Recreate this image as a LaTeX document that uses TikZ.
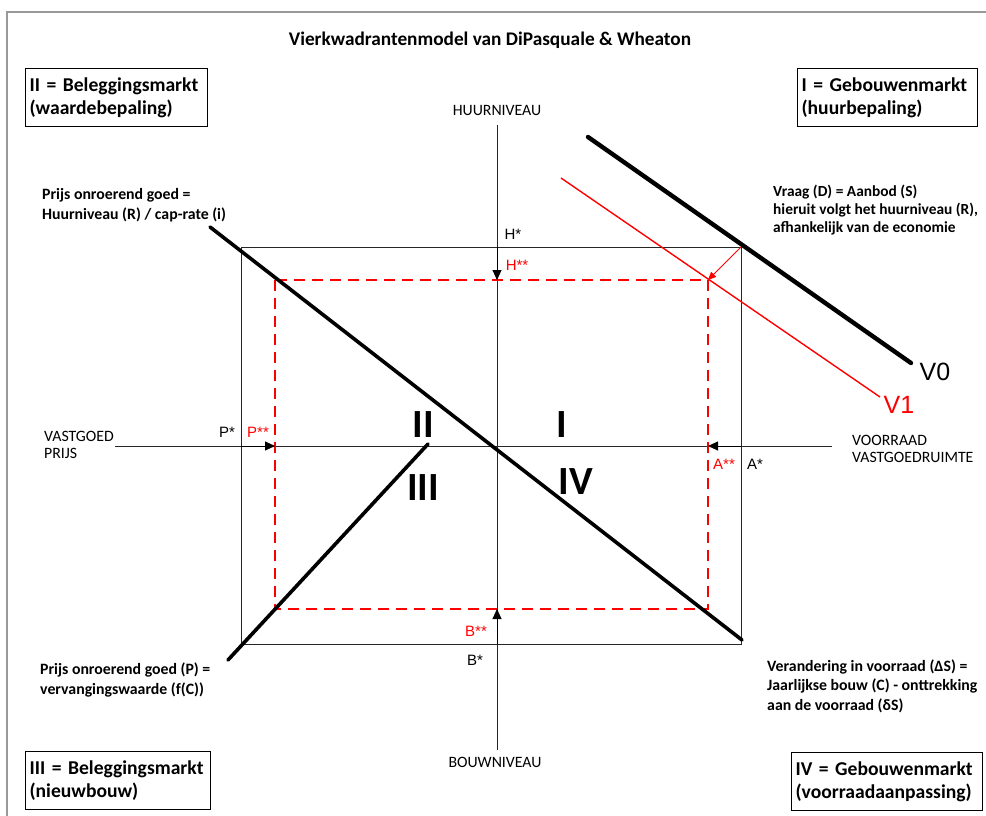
\documentclass[tikz,border=0pt]{standalone}
\usepackage{fontspec}
\setmainfont{Carlito}
\newfontfamily\arialfont{Liberation Sans}
\usetikzlibrary{arrows.meta, positioning, calc}

\begin{document}
\begin{tikzpicture}[
    x=1pt, y=-1pt,
    quadbox/.style={rectangle, draw=black, line width=1.2pt, anchor=north west,
                    minimum height=58pt, inner sep=4pt, align=left,
                    font=\bfseries\fontsize{19.6}{23}\selectfont},
    note/.style={anchor=west, align=left, inner sep=0pt,
                 font=\bfseries\fontsize{15.8}{19.5}\selectfont},
    axislabel/.style={inner sep=0pt, align=left, font=\fontsize{15.8}{16.5}\selectfont},
    quadnum/.style={font=\bfseries\fontsize{40}{40}\selectfont},
    starlabel/.style={inner sep=0pt, font=\arialfont\fontsize{15}{15}\selectfont},
    redstar/.style={starlabel, text=red},
    curvelabel/.style={font=\arialfont\fontsize{25}{25}\selectfont},
    axis/.style={line width=0.9pt, draw=black!85},
    thickline/.style={line width=3.6pt, line cap=round},
    shiftarrow/.style={-{Triangle[length=10pt, width=9pt]}, line width=0.9pt},
    reddash/.style={red, line width=2.2pt, dash pattern=on 11pt off 7pt},
]
\useasboundingbox (0,0) rectangle (986,816);

% kader
\draw[gray!80, line width=1.8pt] (986,12) -- (7,12) -- (7,816);

% titel
\node[font=\bfseries\fontsize{19.3}{22}\selectfont] (title) at (490,40)
    {Vierkwadrantenmodel van DiPasquale \& Wheaton};

% kwadrantboxen
\node[quadbox, text width=174pt] (boxII) at (25,68) {II = Beleggingsmarkt\\(waardebepaling)};
\node[quadbox, text width=172pt] (boxI) at (797,68) {I = Gebouwenmarkt\\(huurbepaling)};
\node[quadbox, text width=177pt] (boxIII) at (25,751) {III = Beleggingsmarkt\\(nieuwbouw)};
\node[quadbox, text width=183pt] (boxIV) at (791,752) {IV = Gebouwenmarkt\\(voorraadaanpassing)};

% assen
\node[axislabel] (huur) at (497,110) {HUURNIVEAU};
\node[axislabel] (bouw) at (495,762) {BOUWNIVEAU};
\node[axislabel, anchor=west] (prijs) at (44,445) {VASTGOED\\PRIJS};
\node[axislabel, anchor=west] (voorraad) at (852,449) {VOORRAAD\\VASTGOEDRUIMTE};
\coordinate (center) at (497,446);
\draw[axis] (497,125) coordinate (vtop) -- (497,750) coordinate (vbot);
\draw[axis] (115,446) coordinate (hleft) -- (832,446) coordinate (hright);

% evenwicht (zwart) en nieuw evenwicht (rood)
\coordinate (bNW) at (241,247);
\coordinate (bSE) at (741,644);
\coordinate (rNW) at (275,280);
\coordinate (rSE) at (708,609);
\draw[line width=0.9pt, draw=black!85] (bNW) rectangle (bSE);
\draw[reddash] (rNW) rectangle (rSE);

% curves
\draw[thickline] (210,227) -- (742,640);
\draw[thickline] (228,660) -- (428,444);
\draw[line width=4.4pt, line cap=round] (588,137) coordinate (v0a) -- (911,363) coordinate (v0b);
\draw[red, line width=1.4pt] (561,178) coordinate (v1a) -- (880,397) coordinate (v1b);
\node[curvelabel] (V0) at (935,372) {V0};
\node[curvelabel, text=red] (V1) at (899,405) {V1};

% verschuivingen
\draw[shiftarrow, red, line width=0.8pt, -{Triangle[length=8pt, width=7pt]}] (bSE |- bNW) -- (rSE |- rNW);
\draw[shiftarrow] (center |- bNW) -- (center |- rNW);
\draw[shiftarrow] (center |- bSE) -- (center |- rSE);
\draw[shiftarrow] (bNW |- center) -- (rNW |- center);
\draw[shiftarrow] (bSE |- center) -- (rSE |- center);

% labels bij de assen
\node[starlabel] (Hs) at (513,234) {H*};
\node[redstar] (Hss) at (517,265) {H**};
\node[redstar] (Bss) at (476,631) {B**};
\node[starlabel] (Bs) at (475,660) {B*};
\node[starlabel] (Ps) at (227,432) {P*};
\node[redstar] (Pss) at (258,432) {P**};
\node[redstar] (Ass) at (724,464) {A**};
\node[starlabel] (As) at (755,464) {A*};

% kwadrantnummers
\node[quadnum] (qII) at (423,425) {II};
\node[quadnum] (qI) at (562,425) {I};
\node[quadnum] (qIII) at (423,488) {III};
\node[quadnum] (qIV) at (576,482) {IV};

% toelichtingen
\node[note] (capnote) at (42,205) {Prijs onroerend goed =\\Huurniveau (R) / cap-rate (i)};
\node[note, font=\bfseries\fontsize{15.4}{18}\selectfont] (vraagnote) at (773,210)
    {Vraag (D) = Aanbod (S)\\hieruit volgt het huurniveau (R),\\afhankelijk van de economie};
\node[note] (vervnote) at (40,680) {Prijs onroerend goed (P) =\\vervangingswaarde (f(C))};
\node[note] (voorrnote) at (767,686)
    {Verandering in voorraad (ΔS) =\\Jaarlijkse bouw (C) - onttrekking\\aan de voorraad (δS)};
\end{tikzpicture}
\end{document}
